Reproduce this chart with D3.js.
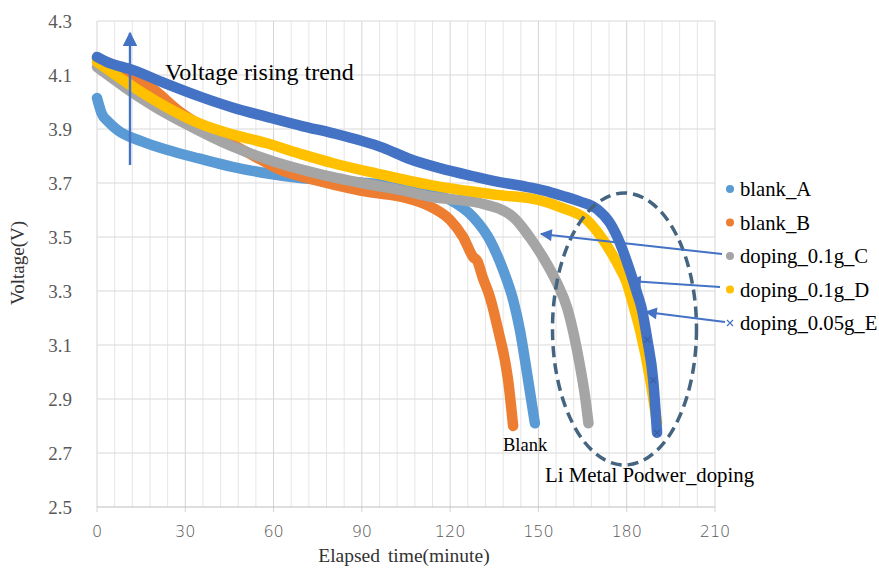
<!DOCTYPE html>
<html>
<head>
<meta charset="utf-8">
<script src="https://cdn.jsdelivr.net/npm/d3@7"></script>
<style>
  body { margin: 0; background: #fff; }
  svg { display: block; }
</style>
</head>
<body>
<div id="chart"></div>
<script>
// values: [minutes, volts]
const blankA = [[0, 4.015], [1.5, 3.96], [4, 3.925], [7, 3.896], [15, 3.855], [24, 3.822], [35, 3.79],
  [46, 3.76], [58, 3.735], [69, 3.718], [85, 3.705], [100, 3.69], [110, 3.67], [120, 3.637],
  [127.8, 3.574], [133.5, 3.489], [138, 3.378], [141.4, 3.267], [143.7, 3.156], [146.5, 2.97], [148.8, 2.81]];
const blankB = [[0, 4.16], [5, 4.14], [11, 4.11], [20, 4.04], [28, 3.965], [35, 3.915], [45, 3.85],
  [55, 3.79], [62, 3.75], [70, 3.722], [80, 3.695], [92, 3.667], [105, 3.645], [113.8, 3.61],
  [120, 3.563], [124.4, 3.5], [127.8, 3.426], [129.3, 3.41], [131, 3.352], [133.5, 3.278],
  [136.3, 3.156], [139.7, 2.97], [141.4, 2.80]];
const dopingC = [[0, 4.13], [5, 4.09], [10, 4.05], [20, 3.98], [30, 3.92], [45, 3.84], [60, 3.78],
  [75, 3.735], [90, 3.70], [105, 3.67], [113, 3.65], [130, 3.626], [141.4, 3.574], [147, 3.5],
  [151.5, 3.426], [156.3, 3.33], [159.7, 3.24], [162, 3.14], [164, 3.03], [165.7, 2.92], [167, 2.81]];
const dopingD = [[0, 4.148], [5, 4.11], [12.3, 4.056], [23, 3.985], [35, 3.92], [46, 3.88],
  [57.7, 3.847], [70, 3.805], [80, 3.774], [95, 3.735], [113, 3.693], [136, 3.656], [150, 3.637],
  [158.3, 3.607], [166.5, 3.563], [172, 3.489], [176.7, 3.404], [180, 3.33], [182, 3.256],
  [184.5, 3.156], [188, 2.97], [190.3, 2.81]];
const dopingE = [[0, 4.167], [3, 4.15], [12.3, 4.118], [23, 4.07], [35, 4.02], [46, 3.98],
  [57.7, 3.945], [70, 3.91], [80, 3.885], [97.3, 3.83], [106, 3.79], [116.5, 3.755], [127.8, 3.725],
  [136, 3.705], [145, 3.688], [152, 3.672], [158.3, 3.652], [164, 3.632], [170, 3.603], [174.3, 3.552],
  [177.7, 3.478], [181, 3.378], [183.5, 3.293], [185.2, 3.23], [187, 3.12], [189, 2.97], [190.3, 2.775]];

const seriesNames = ["blank_A", "blank_B", "doping_0.1g_C", "doping_0.1g_D", "doping_0.05g_E"];
const seriesData = [blankA, blankB, dopingC, dopingD, dopingE];
const seriesColours = ["#5b9bd5", "#ed7d31", "#a5a5a5", "#ffc000", "#4472c4"];

const xTicks = [0, 30, 60, 90, 120, 150, 180, 210];
const yTicks = [2.5, 2.7, 2.9, 3.1, 3.3, 3.5, 3.7, 3.9, 4.1, 4.3];

const w = 879;
const h = 570;
const margin = { left: 97, right: 164, top: 21, bottom: 63 };

const serif = "'Liberation Serif', 'Times New Roman', serif";

const svg = d3.select("#chart").append("svg").attr("width", w).attr("height", h);

const xScale = d3.scaleLinear().domain([0, 210]).range([margin.left, w - margin.right]);
const yScale = d3.scaleLinear().domain([2.5, 4.3]).range([h - margin.bottom, margin.top]);

// grid: minor verticals every 6 minutes, majors every 30
svg.append("g")
  .selectAll("line")
  .data(d3.range(0, 211, 6).filter((d) => d % 30 !== 0))
  .join("line")
  .attr("x1", (d) => xScale(d)).attr("x2", (d) => xScale(d))
  .attr("y1", yScale(2.5)).attr("y2", yScale(4.3))
  .attr("stroke", "#e6e6e6");

svg.append("g")
  .selectAll("line")
  .data(xTicks)
  .join("line")
  .attr("x1", (d) => xScale(d)).attr("x2", (d) => xScale(d))
  .attr("y1", yScale(2.5) + 5).attr("y2", yScale(4.3))
  .attr("stroke", "#d4d4d4");

svg.append("g")
  .selectAll("line")
  .data(yTicks)
  .join("line")
  .attr("x1", xScale(0)).attr("x2", xScale(210))
  .attr("y1", (d) => yScale(d)).attr("y2", (d) => yScale(d))
  .attr("stroke", (d) => (d === 2.5 ? "#bfbfbf" : "#d9d9d9"));

// tick labels
svg.append("g")
  .selectAll("text")
  .data(yTicks)
  .join("text")
  .attr("x", 72)
  .attr("y", (d) => yScale(d))
  .attr("dy", "0.35em")
  .attr("text-anchor", "end")
  .style("font-family", serif)
  .style("font-size", "19px")
  .style("fill", "#595959")
  .text((d) => d.toFixed(1));

svg.append("g")
  .selectAll("text")
  .data(xTicks)
  .join("text")
  .attr("x", (d) => xScale(d))
  .attr("y", 537)
  .attr("text-anchor", "middle")
  .style("font-family", "'DejaVu Sans', sans-serif")
  .style("font-size", "16px")
  .style("font-weight", "300")
  .style("fill", "#595959")
  .text((d) => d);

// axis titles
svg.append("text")
  .attr("x", 404)
  .attr("y", 562)
  .attr("text-anchor", "middle")
  .style("font-family", serif)
  .style("font-size", "19.5px")
  .style("fill", "#333")
  .style("word-spacing", "3px")
  .text("Elapsed time(minute)");

svg.append("text")
  .attr("transform", "translate(24,263) rotate(-90)")
  .attr("text-anchor", "middle")
  .style("font-family", serif)
  .style("font-size", "19px")
  .style("fill", "#333")
  .text("Voltage(V)");

// curves
const line = d3.line()
  .x((d) => xScale(d[0]))
  .y((d) => yScale(d[1]))
  .curve(d3.curveMonotoneX);

svg.append("g")
  .selectAll("path")
  .data(seriesData)
  .join("path")
  .attr("d", line)
  .attr("fill", "none")
  .attr("stroke", (d, i) => seriesColours[i])
  .attr("stroke-width", 10.5)
  .attr("stroke-linecap", "round")
  .attr("stroke-linejoin", "round");

// x markers at the tail of the last series
svg.append("g")
  .selectAll("path")
  .data(dopingE.slice(-3))
  .join("path")
  .attr("transform", (d) => `translate(${xScale(d[0])},${yScale(d[1])})`)
  .attr("d", "M-3,-3L3,3M-3,3L3,-3")
  .attr("stroke", "#3a5f9f")
  .attr("stroke-width", 1.2);

// legend
const legend = svg.append("g")
  .selectAll("g")
  .data(seriesNames)
  .join("g")
  .attr("transform", (d, i) => `translate(730,${189 + i * 33.5})`);

legend.filter((d, i) => i < 4)
  .append("circle")
  .attr("r", 4)
  .attr("fill", (d, i) => seriesColours[i]);

legend.filter((d, i) => i === 4)
  .append("path")
  .attr("d", "M-3,-3L3,3M-3,3L3,-3")
  .attr("stroke", "#4472c4")
  .attr("stroke-width", 1.2);

legend.append("text")
  .attr("x", 10)
  .attr("dy", "0.35em")
  .style("font-family", serif)
  .style("font-size", "20.7px")
  .style("fill", "#000")
  .text((d) => d);

// annotations
const defs = svg.append("defs");
defs.append("marker")
  .attr("id", "head")
  .attr("viewBox", "0 0 10 10")
  .attr("refX", 9).attr("refY", 5)
  .attr("markerWidth", 7).attr("markerHeight", 6)
  .attr("markerUnits", "strokeWidth")
  .attr("orient", "auto")
  .append("path")
  .attr("d", "M0,0L10,5L0,10Z")
  .attr("fill", "#4472c4");

svg.append("ellipse")
  .attr("cx", 624.5).attr("cy", 329)
  .attr("rx", 72).attr("ry", 136)
  .attr("fill", "none")
  .attr("stroke", "#44647f")
  .attr("stroke-width", 3.5)
  .attr("stroke-dasharray", "11,6");

svg.append("line")
  .attr("x1", 130).attr("y1", 165)
  .attr("x2", 130).attr("y2", 33)
  .attr("stroke", "#4472c4")
  .attr("stroke-width", 2.4)
  .attr("marker-end", "url(#head)");

const pointers = [
  [722, 254, 541, 234],
  [720, 287, 630, 281],
  [725, 322, 646, 312]
];
svg.append("g")
  .selectAll("line")
  .data(pointers)
  .join("line")
  .attr("x1", (d) => d[0]).attr("y1", (d) => d[1])
  .attr("x2", (d) => d[2]).attr("y2", (d) => d[3])
  .attr("stroke", "#4472c4")
  .attr("stroke-width", 2)
  .attr("marker-end", "url(#head)");

svg.append("text")
  .attr("x", 165).attr("y", 80)
  .style("font-family", serif)
  .style("font-size", "24px")
  .style("fill", "#000")
  .text("Voltage rising trend");

svg.append("text")
  .attr("x", 503).attr("y", 451)
  .style("font-family", serif)
  .style("font-size", "18.5px")
  .style("fill", "#000")
  .text("Blank");

svg.append("text")
  .attr("x", 545).attr("y", 482)
  .style("font-family", serif)
  .style("font-size", "20.8px")
  .style("fill", "#000")
  .text("Li Metal Podwer_doping");
</script>
</body>
</html>
